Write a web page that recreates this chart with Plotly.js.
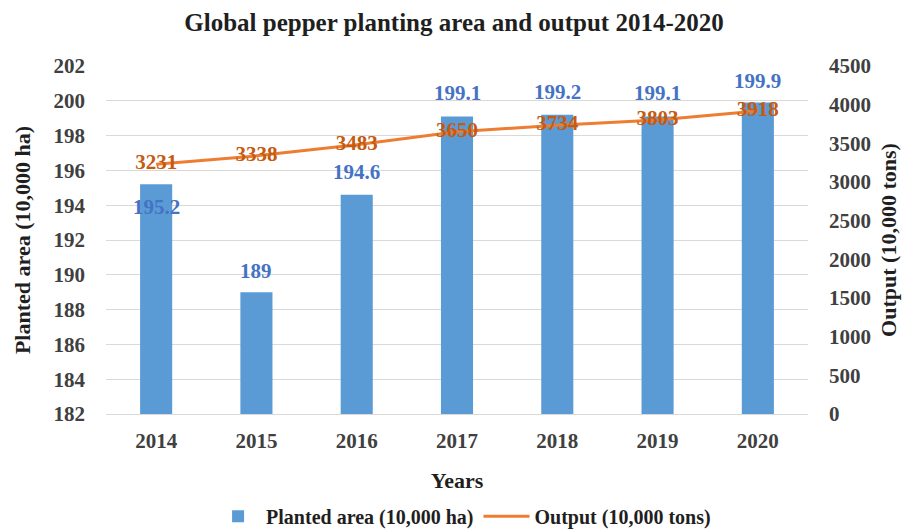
<!DOCTYPE html>
<html>
<head>
<meta charset="utf-8">
<script src="https://cdn.plot.ly/plotly-3.0.1.min.js"></script>
<style>
  html, body { margin: 0; padding: 0; background: #fff; }
  #chart { width: 908px; height: 531px; }
</style>
</head>
<body>
<div id="chart"></div>
<script>
// Years on the horizontal axis
const years = [2014, 2015, 2016, 2017, 2018, 2019, 2020];
// Planted area, 10,000 ha (left axis)
const plantedArea = [195.2, 189, 194.6, 199.1, 199.2, 199.1, 199.9];
// Output, 10,000 tons (right axis)
const output = [3231, 3338, 3483, 3650, 3734, 3803, 3918];
// Left-axis tick labels
const areaTicks = [182, 184, 186, 188, 190, 192, 194, 196, 198, 200, 202];
// Label offsets for the area values (px, positive = above the bar top)
const areaLabelShift = [-23, 21, 23, 23, 23, 23, 22];

const serif = 'Liberation Serif, Times New Roman, serif';
const blue = '#5B9BD5';
const orange = '#ED7D31';
const axisBase = areaTicks[0];

const traces = [
  {
    type: 'bar',
    name: 'Planted area (10,000 ha)',
    x: years,
    // bars rise from the 182 baseline of the left axis
    y: plantedArea.map(v => v - axisBase),
    base: 0,
    width: 0.32,
    marker: { color: blue },
    yaxis: 'y'
  },
  {
    type: 'scatter',
    mode: 'lines+text',
    name: 'Output (10,000 tons)',
    x: years,
    y: output,
    text: output.map(String),
    textposition: 'middle center',
    textfont: { family: serif, size: 21, color: '#C55A11', weight: 'bold' },
    line: { color: orange, width: 3 },
    yaxis: 'y2',
    cliponaxis: false
  }
];

// Area value labels, placed from the bar values
const annotations = years.map((yr, i) => ({
  x: yr,
  y: plantedArea[i] - axisBase,
  xref: 'x',
  yref: 'y',
  text: String(plantedArea[i]),
  showarrow: false,
  yshift: areaLabelShift[i],
  font: { family: serif, size: 21, color: '#4472C4', weight: 'bold' }
}));

const tickFont = { family: serif, size: 21, color: '#404040', weight: 'bold' };
const axisTitleFont = { family: serif, size: 22, color: '#1f1f1f', weight: 'bold' };

const layout = {
  width: 908,
  height: 531,
  margin: { l: 106, r: 100, t: 66, b: 117 },
  paper_bgcolor: '#ffffff',
  plot_bgcolor: '#ffffff',
  title: {
    text: 'Global pepper planting area and output 2014-2020',
    font: { family: serif, size: 25, color: '#1f1f1f', weight: 'bold' },
    x: 0.5,
    xanchor: 'center',
    y: 0.958,
    yanchor: 'middle',
    automargin: false
  },
  xaxis: {
    type: 'linear',
    automargin: false,
    range: [years[0] - 0.5, years[years.length - 1] + 0.5],
    tickvals: years,
    ticktext: years.map(String),
    tickfont: tickFont,
    ticks: '',
    showgrid: false,
    zeroline: false,
    showline: true,
    linecolor: '#D9D9D9',
    ticklabelstandoff: 8,
    title: { text: 'Years', font: axisTitleFont, standoff: 20 }
  },
  yaxis: {
    automargin: false,
    range: [0, areaTicks[areaTicks.length - 1] - axisBase],
    tickvals: areaTicks.map(v => v - axisBase),
    ticktext: areaTicks.map(String),
    showgrid: true,
    gridcolor: '#D9D9D9',
    gridwidth: 1,
    zeroline: false,
    tickfont: tickFont,
    ticklabelstandoff: 20,
    title: { text: 'Planted area (10,000 ha)', font: axisTitleFont, standoff: 16 }
  },
  yaxis2: {
    automargin: false,
    overlaying: 'y',
    side: 'right',
    range: [0, 4500],
    dtick: 500,
    showgrid: false,
    zeroline: false,
    tickfont: tickFont,
    ticklabelstandoff: 20,
    title: { text: 'Output (10,000 tons)', font: axisTitleFont, standoff: 10 }
  },
  showlegend: true,
  legend: {
    orientation: 'h',
    xref: 'container',
    yref: 'container',
    x: 0.51,
    xanchor: 'center',
    y: 0.028,
    yanchor: 'middle',
    font: { family: serif, size: 20, color: '#1f1f1f', weight: 'bold' },
    itemwidth: 46,
    traceorder: 'normal'
  },
  annotations: annotations
};

Plotly.newPlot('chart', traces, layout, { displayModeBar: false, staticPlot: true });
</script>
</body>
</html>
